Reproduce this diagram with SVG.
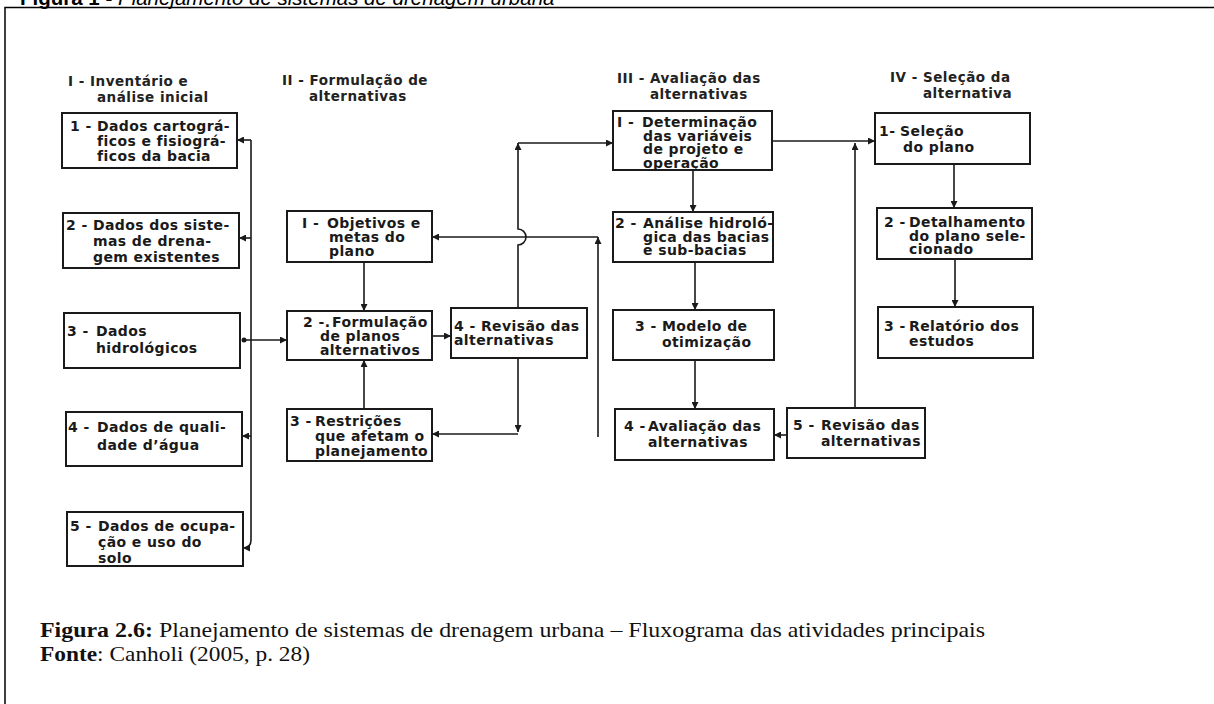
<svg xmlns="http://www.w3.org/2000/svg" width="1214" height="704" viewBox="0 0 1214 704">
<style>
.t{font-family:"DejaVu Sans","Open Sans",sans-serif;font-weight:700;font-size:14px;letter-spacing:0.4px;fill:#1a1a1a}
.h{font-family:"DejaVu Sans","Open Sans",sans-serif;font-weight:700;font-size:13.5px;letter-spacing:0.5px;fill:#222}
.b{fill:#fff;stroke:#1a1a1a;stroke-width:2}
.c{fill:none;stroke:#1a1a1a;stroke-width:1.6}
.cap{font-family:"Liberation Serif","Times New Roman",serif;font-size:21px;fill:#111}
.top{font-family:"Liberation Sans",Arial,sans-serif;font-size:20.5px;fill:#000}
</style>
<defs>
<marker id="ar" viewBox="0 0 10 10" refX="10" refY="5" markerWidth="7" markerHeight="7" markerUnits="userSpaceOnUse" orient="auto"><path d="M0,0 L10,5 L0,10 z" fill="#1a1a1a"/></marker>
<marker id="as" viewBox="0 0 10 10" refX="0" refY="5" markerWidth="7" markerHeight="7" markerUnits="userSpaceOnUse" orient="auto-start-reverse"><path d="M0,0 L10,5 L0,10 z" fill="#1a1a1a"/></marker>
</defs>
<rect width="1214" height="704" fill="#fff"/>
<text class="top" x="20" y="4.5"><tspan font-weight="700">Figura 1 - </tspan><tspan font-style="italic">Planejamento de sistemas de drenagem urbana</tspan></text>
<path d="M5,704 V7.5 H1214" fill="none" stroke="#000" stroke-width="1.5"/>

<g id="headers">
<text class="h" x="68" y="86">I - Inventário e</text><text class="h" x="97" y="102">análise inicial</text>
<text class="h" x="282" y="85">II - Formulação de</text><text class="h" x="309" y="101">alternativas</text>
<text class="h" x="617" y="83">III - Avaliação das</text><text class="h" x="650" y="99">alternativas</text>
<text class="h" x="890" y="82">IV - Seleção da</text><text class="h" x="923" y="98">alternativa</text>
</g>

<g id="connectors">
<path class="c" d="M251,140 V540 Q251,548 243,548" marker-end="url(#ar)"/>
<path class="c" d="M251,140 H237" marker-end="url(#ar)"/>
<path class="c" d="M251,238 H239" marker-end="url(#ar)"/>
<path class="c" d="M251,436 H242" marker-end="url(#ar)"/>
<circle cx="244" cy="340" r="2.5" fill="#1a1a1a"/>
<path class="c" d="M244,340 H287" marker-end="url(#ar)"/>
<path class="c" d="M364,262 V311" marker-end="url(#ar)"/>
<path class="c" d="M364,409 V360" marker-end="url(#ar)"/>
<path class="c" d="M432,336 H451" marker-end="url(#ar)"/>
<path class="c" d="M518,308 V245 A8,8 0 0 0 518,229 V143" marker-end="url(#ar)"/>
<path class="c" d="M518,143 H613" marker-end="url(#ar)"/>
<path class="c" d="M598,437 V237" marker-end="url(#ar)"/>
<path class="c" d="M598,237 H432" marker-end="url(#ar)"/>
<path class="c" d="M518,358 V432" marker-end="url(#ar)"/>
<path class="c" d="M518,434 H432" marker-end="url(#ar)"/>
<path class="c" d="M693,170 V212" marker-end="url(#ar)"/>
<path class="c" d="M695,262 V310" marker-end="url(#ar)"/>
<path class="c" d="M695,360 V409" marker-end="url(#ar)"/>
<path class="c" d="M787,435 H774" marker-end="url(#ar)"/>
<path class="c" d="M855,408 V143" marker-end="url(#ar)"/>
<path class="c" d="M772,141 H875" marker-start="url(#as)" marker-end="url(#ar)"/>
<path class="c" d="M954,164 V208" marker-end="url(#ar)"/>
<path class="c" d="M955,259 V307" marker-end="url(#ar)"/>
</g>

<g id="i1"><rect class="b" x="62" y="113" width="175" height="55"/>
<text class="t" y="131"><tspan x="70">1 -</tspan><tspan x="97">Dados cartográ-</tspan><tspan x="97" dy="15">ficos e fisiográ-</tspan><tspan x="97" dy="15">ficos da bacia</tspan></text></g>
<g id="i2"><rect class="b" x="63" y="213" width="176" height="55"/>
<text class="t" y="230"><tspan x="66">2 -</tspan><tspan x="93">Dados dos siste-</tspan><tspan x="93" dy="16">mas de drena-</tspan><tspan x="93" dy="16">gem existentes</tspan></text></g>
<g id="i3"><rect class="b" x="64" y="313" width="176" height="55"/>
<text class="t" y="336"><tspan x="67">3 -</tspan><tspan x="96">Dados</tspan><tspan x="96" dy="17">hidrológicos</tspan></text></g>
<g id="i4"><rect class="b" x="66" y="412" width="176" height="54"/>
<text class="t" y="432"><tspan x="68">4 -</tspan><tspan x="97">Dados de quali-</tspan><tspan x="97" dy="18">dade d’água</tspan></text></g>
<g id="i5"><rect class="b" x="67" y="512" width="176" height="54"/>
<text class="t" y="531"><tspan x="70">5 -</tspan><tspan x="98">Dados de ocupa-</tspan><tspan x="98" dy="16">ção e uso do</tspan><tspan x="98" dy="16">solo</tspan></text></g>

<g id="ii1"><rect class="b" x="287" y="211" width="145" height="51"/>
<text class="t" y="228"><tspan x="302">I -</tspan><tspan x="327">Objetivos e</tspan><tspan x="329" dy="14">metas do</tspan><tspan x="329" dy="14">plano</tspan></text></g>
<g id="ii2"><rect class="b" x="287" y="311" width="145" height="49"/>
<text class="t" y="327"><tspan x="303">2 -.</tspan><tspan x="332">Formulação</tspan><tspan x="320" dy="14">de planos</tspan><tspan x="320" dy="14">alternativos</tspan></text></g>
<g id="ii3"><rect class="b" x="287" y="409" width="145" height="52"/>
<text class="t" y="426"><tspan x="290">3 -</tspan><tspan x="315">Restrições</tspan><tspan x="315" dy="15">que afetam o</tspan><tspan x="315" dy="15">planejamento</tspan></text></g>
<g id="ii4"><rect class="b" x="451" y="308" width="136" height="50"/>
<text class="t" y="331"><tspan x="454">4 - Revisão das</tspan><tspan x="454" dy="14">alternativas</tspan></text></g>

<g id="iii1"><rect class="b" x="613" y="111" width="159" height="59"/>
<text class="t" y="127"><tspan x="617">I -</tspan><tspan x="642">Determinação</tspan><tspan x="643" dy="13.5">das variáveis</tspan><tspan x="643" dy="13.5">de projeto e</tspan><tspan x="643" dy="13.5">operação</tspan></text></g>
<g id="iii2"><rect class="b" x="613" y="212" width="160" height="50"/>
<text class="t" y="228"><tspan x="615">2 -</tspan><tspan x="643">Análise hidroló-</tspan><tspan x="643" dy="13.5">gica das bacias</tspan><tspan x="643" dy="13.5">e sub-bacias</tspan></text></g>
<g id="iii3"><rect class="b" x="613" y="310" width="161" height="50"/>
<text class="t" y="331"><tspan x="635">3 -</tspan><tspan x="662">Modelo de</tspan><tspan x="662" dy="16">otimização</tspan></text></g>
<g id="iii4"><rect class="b" x="615" y="409" width="159" height="51"/>
<text class="t" y="431"><tspan x="624">4 -</tspan><tspan x="648">Avaliação das</tspan><tspan x="648" dy="16">alternativas</tspan></text></g>
<g id="iii5"><rect class="b" x="787" y="408" width="138" height="50"/>
<text class="t" y="430"><tspan x="793">5 -</tspan><tspan x="821">Revisão das</tspan><tspan x="821" dy="16">alternativas</tspan></text></g>

<g id="iv1"><rect class="b" x="875" y="113" width="155" height="51"/>
<text class="t" y="136"><tspan x="879">1-</tspan><tspan x="900">Seleção</tspan><tspan x="903" dy="16">do plano</tspan></text></g>
<g id="iv2"><rect class="b" x="877" y="208" width="155" height="51"/>
<text class="t" y="227"><tspan x="884">2 -</tspan><tspan x="909">Detalhamento</tspan><tspan x="909" dy="13.5">do plano sele-</tspan><tspan x="909" dy="13.5">cionado</tspan></text></g>
<g id="iv3"><rect class="b" x="878" y="307" width="155" height="51"/>
<text class="t" y="331"><tspan x="884">3 -</tspan><tspan x="909">Relatório dos</tspan><tspan x="909" dy="15">estudos</tspan></text></g>

<g id="caption">
<text class="cap" x="40" y="637" textLength="945" lengthAdjust="spacingAndGlyphs"><tspan font-weight="700">Figura 2.6:</tspan> Planejamento de sistemas de drenagem urbana – Fluxograma das atividades principais</text>
<text class="cap" x="40" y="661" textLength="270" lengthAdjust="spacingAndGlyphs"><tspan font-weight="700">Fonte</tspan>: Canholi (2005, p. 28)</text>
</g>
</svg>
